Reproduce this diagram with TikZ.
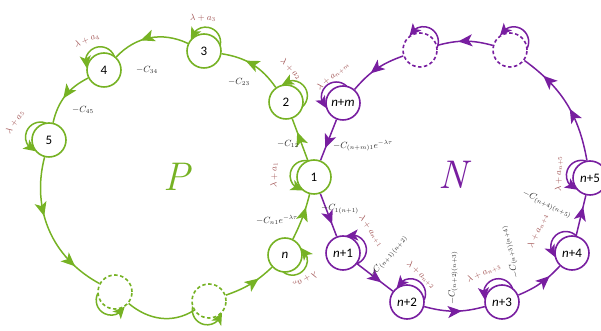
\documentclass[tikz,border=0pt]{standalone}
\usepackage{fontspec}
\newfontfamily\nodefont{Carlito}
\usetikzlibrary{arrows.meta,decorations.markings,calc,bending}
\definecolor{pgreen}{RGB}{118,178,36}
\definecolor{ppurple}{RGB}{120,30,160}
\definecolor{lbrown}{RGB}{160,82,82}
\pgfdeclarelayer{background}
\pgfsetlayers{background,main}
\tikzset{
  st/.style={circle, draw, line width=1.6pt, minimum size=34pt, inner sep=0pt, fill=white, font=\nodefont\fontsize{13}{13}\selectfont},
  gst/.style={st, draw=pgreen},
  pst/.style={st, draw=ppurple},
  dst/.style={dash pattern=on 3.5pt off 2.5pt},
  gline/.style={color=pgreen, line width=1.5pt},
  pline/.style={color=ppurple, line width=1.5pt},
  midarr/.style={postaction={decorate}, decoration={markings, mark=at position #1 with {\arrow{Stealth[length=14pt,width=12pt,inset=3.5pt]}}}},
  twoarr/.style 2 args={postaction={decorate}, decoration={markings,
     mark=at position #1 with {\arrow{Stealth[length=14pt,width=12pt,inset=3.5pt]}},
     mark=at position #2 with {\arrow{Stealth[length=14pt,width=12pt,inset=3.5pt]}}}},
  lam/.style={text=lbrown, font=\fontsize{9}{10}\selectfont, inner sep=0pt},
  cl/.style={text=black!85, font=\fontsize{9}{10}\selectfont, inner sep=0pt},
}
\newcommand\sloop[3]{%
  \pgfmathsetmacro\lpSA{#3-92}\pgfmathsetmacro\lpEA{#3+90}%
  \draw[#1, -{Stealth[length=12pt,width=11pt,inset=3pt]}] ($(#2.center)+(#3:9pt)$) ++(\lpSA:15pt) arc[start angle=\lpSA, end angle=\lpEA, radius=15pt];
}
\begin{document}
\begin{tikzpicture}[x=1pt,y=1pt]
\useasboundingbox (0,0) rectangle (601,331);
% green nodes
\node[gst] (g1) at (314,154) {1};
\node[gst] (g2) at (286,229) {2};
\node[gst] (g3) at (204,280) {3};
\node[gst] (g4) at (104,261) {4};
\node[gst] (g5) at (49,191) {5};
\node[gst,dst] (gd1) at (115,39) {};
\node[gst,dst] (gd2) at (209,30) {};
\node[gst] (gn) at (285,76) {\itshape n};
% purple nodes
\node[pst] (pnm) at (343,228) {{\itshape n}+{\itshape m}};
\node[pst,dst] (pdl) at (420,281) {};
\node[pst,dst] (pdr) at (510,281) {};
\node[pst] (p5) at (590,153) {{\itshape n}+5};
\node[pst] (p4) at (572,78) {{\itshape n}+4};
\node[pst] (p3) at (502,29) {{\itshape n}+3};
\node[pst] (p2) at (407,29) {{\itshape n}+2};
\node[pst] (p1) at (343,78) {{\itshape n}+1};
\begin{pgfonlayer}{background}
% green edges
\draw[gline, midarr=0.68] (g1) -- (g2);
\draw[gline, midarr=0.62] (g2) to[bend right=23] (g3);
\draw[gline, midarr=0.62] (g3) to[bend right=36] (g4);
\draw[gline, midarr=0.55] (g4) to[bend right=25] (g5);
\draw[gline, twoarr={0.4}{0.8}] (g5) to[bend right=38] (gd1);
\draw[gline] (gd1) to[out=-40, in=212] (gd2);
\draw[gline, midarr=0.68] (gd2) to[bend right=12] (gn);
\draw[gline, midarr=0.72] (gn) to[bend right=6] (g1);
% purple edges
\draw[pline, midarr=0.7] (pnm) -- (g1);
\draw[pline, midarr=0.72] (g1) -- (p1);
\draw[pline, midarr=0.68] (p1) -- (p2);
\draw[pline, midarr=0.62] (p2) to[bend right=15] (p3);
\draw[pline, midarr=0.72] (p3) to[bend right=12] (p4);
\draw[pline, midarr=0.72] (p4) -- (p5);
\draw[pline, twoarr={0.45}{0.8}] (p5) to[bend right=22] (pdr);
\draw[pline, midarr=0.62] (pdr) to[bend right=15] (pdl);
\draw[pline, midarr=0.62] (pdl) to[bend right=15] (pnm);
% self loops
\sloop{gline}{g1}{171}
\sloop{gline}{g2}{45}
\sloop{gline}{g3}{80}
\sloop{gline}{g4}{114}
\sloop{gline}{g5}{161}
\sloop{gline}{gd1}{-115}
\sloop{gline}{gd2}{-101}
\sloop{gline}{gn}{-35}
\sloop{pline}{pnm}{138}
\sloop{pline}{pdl}{68}
\sloop{pline}{pdr}{66}
\sloop{pline}{p1}{21}
\sloop{pline}{p2}{67}
\sloop{pline}{p3}{113}
\sloop{pline}{p4}{134}
\sloop{pline}{p5}{163}
\end{pgfonlayer}
% loop labels
\node[lam] (la3) at (203,313) {$\lambda+a_3$};
\node[lam, rotate=22] (la4) at (87,291) {$\lambda+a_4$};
\node[lam, rotate=55] (la5) at (15,209) {$\lambda+a_5$};
\node[lam, rotate=-45] (la2) at (291,262) {$\lambda+a_2$};
\node[lam, rotate=40] (lanm) at (333,255) {$\lambda+a_{n+m}$};
\node[lam, rotate=90] (la1) at (274,156) {$\lambda+a_1$};
\node[lam, rotate=210] (lan) at (305,51) {$\lambda+a_n$};
\node[lam, rotate=-55] (lan1) at (371,100) {$\lambda+a_{n+1}$};
\node[lam, rotate=-43] (lan2) at (421,56) {$\lambda+a_{n+2}$};
\node[lam, rotate=25] (lan3) at (484,58) {$\lambda+a_{n+3}$};
\node[lam, rotate=65] (lan4) at (538,100) {$\lambda+a_{n+4}$};
\node[lam, rotate=90] (lan5) at (559,157) {$\lambda+a_{n+5}$};
% edge labels
\node[cl] (c12) at (288,187) {$-C_{12}$};
\node[cl] (c23) at (239,249) {$-C_{23}$};
\node[cl] (c34) at (147,261) {$-C_{34}$};
\node[cl] (c45) at (83,221) {$-C_{45}$};
\node[cl] (cn1) at (277,111) {$-C_{n1}e^{-\lambda\tau}$};
\node[cl] (cnm1) at (363,185) {$-C_{(n+m)1}e^{-\lambda\tau}$};
\node[cl] (c1n1) at (340,122) {$-C_{1(n+1)}$};
\node[cl, rotate=50] (cn1n2) at (388,74) {$-C_{(n+1)(n+2)}$};
\node[cl, rotate=90] (cn2n3) at (453,53) {$-C_{(n+2)(n+3)}$};
\node[cl, rotate=105] (cn3n4) at (510,79) {$-C_{(n+3)(n+4)}$};
\node[cl, rotate=-25] (cn4n5) at (547,127) {$-C_{(n+4)(n+5)}$};
% set names
\node[text=pgreen, font=\fontsize{40}{40}\selectfont\itshape] (setP) at (177,154) {P};
\node[text=ppurple, font=\fontsize{40}{40}\selectfont\itshape] (setN) at (453,156) {N};
\end{tikzpicture}
\end{document}
